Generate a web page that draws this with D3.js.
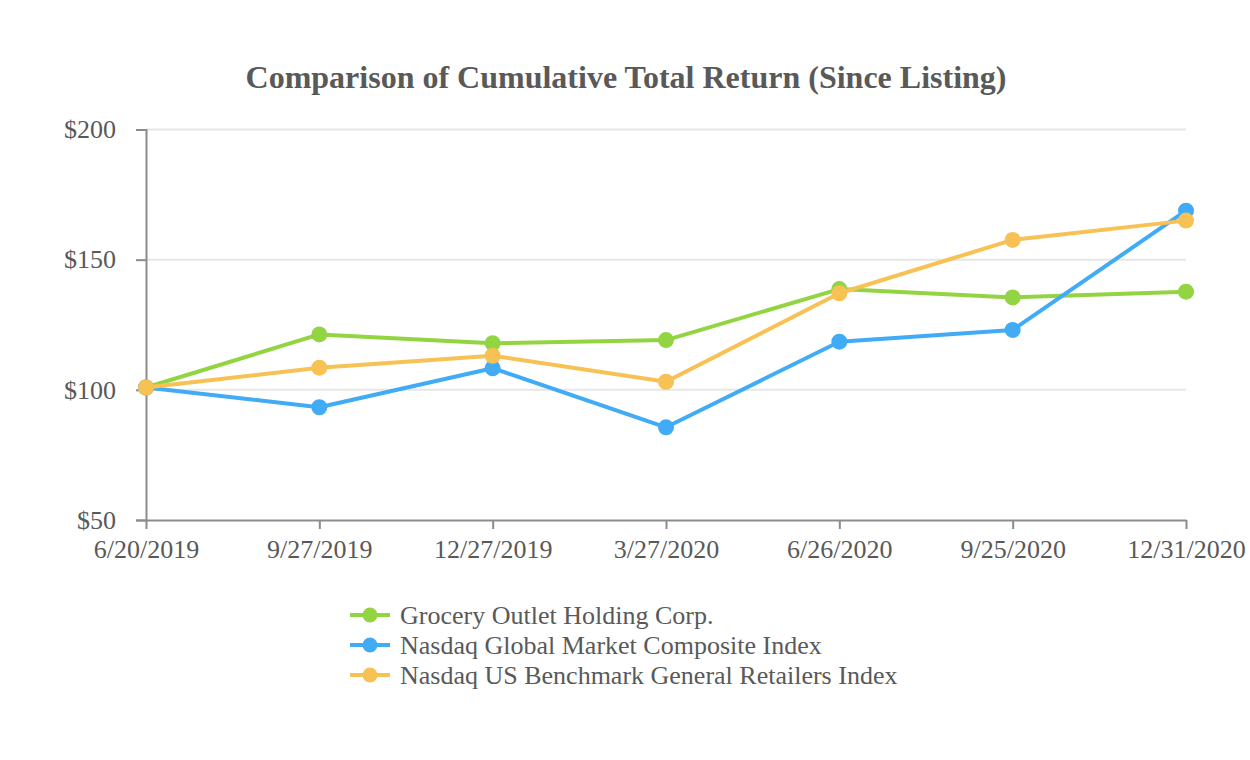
<!DOCTYPE html>
<html><head><meta charset="utf-8">
<script src="https://cdn.jsdelivr.net/npm/d3@7"></script>
<style>body{margin:0;background:#fff}svg{display:block}</style>
</head><body>
<svg id="c" width="1250" height="760"></svg>
<script>
const categories = ["6/20/2019","9/27/2019","12/27/2019","3/27/2020","6/26/2020","9/25/2020","12/31/2020"];
const groceryOutlet = [100.9, 121.3, 117.9, 119.1, 138.7, 135.5, 137.7];
const nasdaqGlobal = [100.9, 93.3, 108.3, 85.6, 118.5, 123.0, 168.8];
const nasdaqRetail = [100.9, 108.5, 113.1, 103.1, 137.1, 157.6, 165.0];
const seriesNames = ["Grocery Outlet Holding Corp.","Nasdaq Global Market Composite Index","Nasdaq US Benchmark General Retailers Index"];
const seriesColors = ["#93d443","#41abf6","#f8c153"];
const yTicks = [50, 100, 150, 200];

const series = [groceryOutlet, nasdaqGlobal, nasdaqRetail];
const svg = d3.select("#c");
const font = "'Liberation Serif','Times New Roman',serif";
const textColor = "#595959";

const x = d3.scalePoint().domain(categories).range([146, 1186]);
const y = d3.scaleLinear().domain([50, 200]).range([520, 129.5]);

svg.append("text").attr("x", 626).attr("y", 88).attr("text-anchor","middle")
  .attr("font-family", font).attr("font-weight","bold").attr("font-size", 32)
  .attr("fill", textColor).text("Comparison of Cumulative Total Return (Since Listing)");

// gridlines
svg.append("g").selectAll("line").data(yTicks.filter(d=>d>50)).join("line")
  .attr("x1", 146).attr("x2", 1186).attr("y1", d=>y(d)).attr("y2", d=>y(d))
  .attr("stroke", "#e6e6e6").attr("stroke-width", 2);

// y axis
const ya = svg.append("g").attr("transform","translate(146,0)")
  .call(d3.axisLeft(y).tickValues(yTicks).tickFormat(d=>"$"+d).tickSize(10).tickPadding(20));
ya.select(".domain").attr("stroke","#8c8c8c").attr("stroke-width",2);
ya.selectAll(".tick line").attr("stroke","#8c8c8c").attr("stroke-width",2);
ya.selectAll("text").attr("font-family",font).attr("font-size",26).attr("fill",textColor);

// x axis
const xa = svg.append("g").attr("transform","translate(0,520)")
  .call(d3.axisBottom(x).tickSize(9).tickPadding(11).tickSizeOuter(0));
xa.select(".domain").attr("stroke","#8c8c8c").attr("stroke-width",2);
xa.selectAll(".tick line").attr("stroke","#8c8c8c").attr("stroke-width",2);
xa.selectAll("text").attr("font-family",font).attr("font-size",26).attr("fill",textColor);

const line = d3.line().x((d,i)=>x(categories[i])).y(d=>y(d));
series.forEach((s, k) => {
  const g = svg.append("g");
  g.append("path").datum(s).attr("d", line).attr("fill","none")
    .attr("stroke", seriesColors[k]).attr("stroke-width", 4).attr("stroke-linejoin","round");
  g.selectAll("circle").data(s).join("circle")
    .attr("cx",(d,i)=>x(categories[i])).attr("cy", d=>y(d)).attr("r", 8)
    .attr("fill", seriesColors[k]);
});

// legend
const lg = svg.append("g").selectAll("g").data(seriesNames).join("g")
  .attr("transform",(d,i)=>`translate(350,${615 + i*30})`);
lg.append("line").attr("x1",0).attr("x2",40).attr("y1",0).attr("y2",0)
  .attr("stroke",(d,i)=>seriesColors[i]).attr("stroke-width",4);
lg.append("circle").attr("cx",20).attr("cy",0).attr("r",7.5).attr("fill",(d,i)=>seriesColors[i]);
lg.append("text").attr("x",50).attr("y",9).attr("font-family",font).attr("font-size",26)
  .attr("fill",textColor).text(d=>d);
</script>
</body></html>
